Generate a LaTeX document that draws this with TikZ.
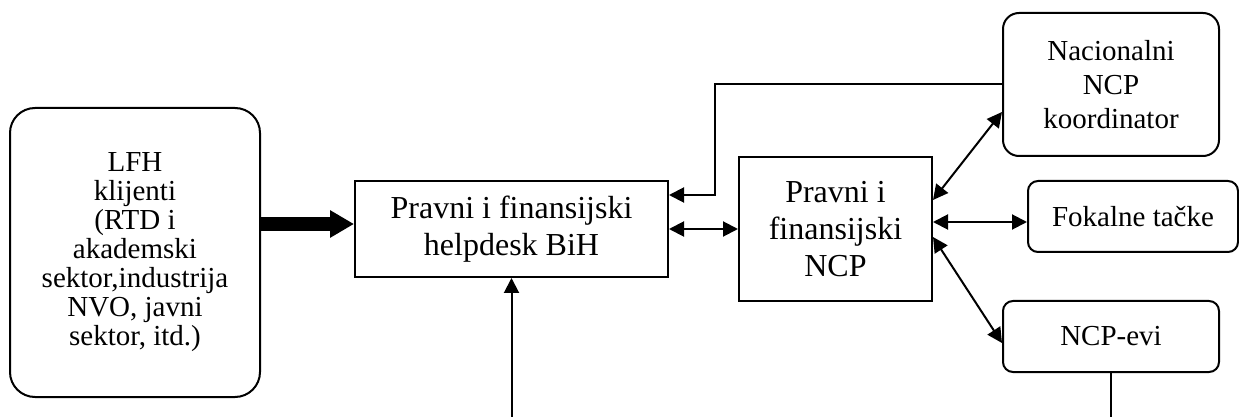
\documentclass[tikz,border=0pt]{standalone}
\usepackage{fontspec}
\setmainfont{Liberation Serif}
\usetikzlibrary{calc,positioning,arrows.meta}

\begin{document}
\begin{tikzpicture}
    \tikzset{x=0.5pt,y=-0.5pt,every path/.style={>={Triangle[length=7.5pt,width=7.5pt]}},
      box style/.style={draw,line width=1pt,align=center,inner sep=2pt},
      round style/.style={box style,rounded corners=8pt},
      link style/.style={line width=1pt},
      fat style/.style={line width=7pt,-{Triangle[length=12pt,width=13pt]}}}
    \useasboundingbox (0,0) rectangle (1239,417);
      \node [round style,rounded corners=12.5pt,minimum width=125pt,minimum height=144.5pt,font=\fontsize{14.5}{14.5}\selectfont]
         (lfh) at (135,252.5) {LFH\\klijenti\\(RTD i\\akademski\\sektor,industrija\\NVO, javni\\sektor, itd.)};
      \node [box style,minimum width=156.5pt,minimum height=48pt,font=\fontsize{16}{18.5}\selectfont]
         (help) at (511.5,229) {Pravni i finansijski\\helpdesk BiH};
      \node [box style,minimum width=96.5pt,minimum height=72pt,font=\fontsize{16}{18.5}\selectfont]
         (ncp) at (835.5,229) {Pravni i\\finansijski\\NCP};
      \node [round style,minimum width=108pt,minimum height=71.5pt,font=\fontsize{14.5}{17}\selectfont]
         (nac) at (1111,84.5) {Nacionalni\\NCP\\koordinator};
      \node [round style,rounded corners=5pt,minimum width=105pt,minimum height=35.5pt,font=\fontsize{14.5}{17}\selectfont]
         (fok) at (1133,216.5) {Fokalne tačke};
      \node [round style,rounded corners=5pt,minimum width=108pt,minimum height=35.5pt,font=\fontsize{14.5}{17}\selectfont]
         (evi) at (1111,336.5) {NCP-evi};
%    free ends at the lower edge
     \coordinate (bend) at (715,195);
     \coordinate (helpin) at (511.5,417);
     \coordinate (eviout) at (1111,417);
  \draw [fat style] ($(lfh.east)+(0,-28.5)$) -- ($(help.west)+(0,-5)$);
  \draw [link style,<->] (help.east) -- (ncp.west);
  \draw [link style,->] (nac.west) -| (bend) -- (help.east |- bend);
  \draw [link style,<->] ($(ncp.east)+(0,-29)$) -- ($(nac.west)+(0,27.5)$);
  \draw [link style,<->] ($(ncp.east)+(0,-7)$) -- ($(fok.west)+(0,5.5)$);
  \draw [link style,<->] ($(ncp.east)+(0,8)$) -- ($(evi.west)+(0,6.5)$);
  \draw [link style,->] (helpin) -- (help.south);
  \draw [link style] (evi.south) -- (eviout);
\end{tikzpicture}
\end{document}
